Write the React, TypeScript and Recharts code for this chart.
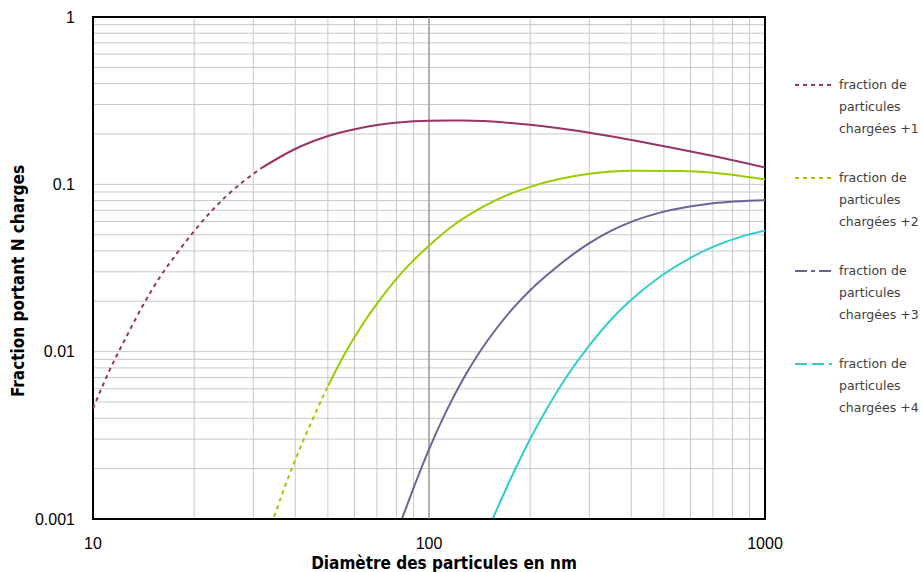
import React from 'react';
import { LineChart, Line, XAxis, YAxis, CartesianGrid, ReferenceLine, ReferenceArea } from 'recharts';

// diametres (nm) et fractions
const d1 = [10, 11.2, 12.6, 14.1, 15.8, 17.8, 20, 22.4, 25.1, 28.2, 31.6, 39.8, 50.1, 63.1, 79.4, 100, 126, 200, 316, 501, 708, 1000];
const f1 = [0.00458, 0.00773, 0.0124, 0.019, 0.0278, 0.0389, 0.0525, 0.0684, 0.0861, 0.105, 0.1245, 0.162, 0.1943, 0.218, 0.233, 0.24, 0.2406, 0.227, 0.2, 0.169, 0.147, 0.126];

const d2 = [34.6, 37, 39.8, 44.7, 50.1, 56.2, 63.1, 70.8, 79.4, 89.1, 100, 120, 145, 174, 200, 300, 400, 560, 700, 1000];
const f2 = [0.00103, 0.00151, 0.0022, 0.00381, 0.00627, 0.00976, 0.01434, 0.02, 0.0268, 0.0345, 0.043, 0.0581, 0.0735, 0.0875, 0.0966, 0.1156, 0.1205, 0.12, 0.1172, 0.107];

const d3 = [83.2, 89.8, 100, 113, 127, 142, 159, 178, 200, 235, 300, 350, 400, 494, 700, 1000];
const f3 = [0.00101, 0.00152, 0.00261, 0.00447, 0.00698, 0.01005, 0.0138, 0.0182, 0.0233, 0.031, 0.0445, 0.0531, 0.0597, 0.0682, 0.0771, 0.0805];

const d4 = [155, 178, 200, 224, 257, 300, 352, 400, 494, 600, 700, 850, 1000];
const f4 = [0.00101, 0.00187, 0.00301, 0.00455, 0.0071, 0.0109, 0.0159, 0.0204, 0.0286, 0.0364, 0.0423, 0.0487, 0.053];

const xTicks = [10, 20, 30, 40, 50, 60, 70, 80, 90, 100, 200, 300, 400, 500, 600, 700, 800, 900, 1000];
const xLabels = [10, 100, 1000];
const yTicks = [
  0.001, 0.002, 0.003, 0.004, 0.005, 0.006, 0.007, 0.008, 0.009,
  0.01, 0.02, 0.03, 0.04, 0.05, 0.06, 0.07, 0.08, 0.09,
  0.1, 0.2, 0.3, 0.4, 0.5, 0.6, 0.7, 0.8, 0.9, 1,
];
const yLabels = [0.001, 0.01, 0.1, 1];

const charges = ['+1', '+2', '+3', '+4'];
const colors = ['#993366', '#99cc00', '#666699', '#33cccc'];
const legendDash = ['4 4', '4 4', '12 4 4 4', '12 5'];

const toRows = (d: number[], f: number[]) => d.map((x, i) => ({ d: x, f: f[i] }));

const s1 = toRows(d1, f1);
const s2 = toRows(d2, f2);
const s3 = toRows(d3, f3);
const s4 = toRows(d4, f4);
// les parties raides apparaissent en pointillés sur l'original
const s1Dash = s1.slice(0, 11);
const s1Solid = s1.slice(10);
const s2Dash = s2.slice(0, 5);
const s2Solid = s2.slice(4);

const tickStyle = { fontFamily: 'Liberation Sans, Arial, sans-serif', fontSize: 16, fill: '#000' };
const titleStyle = { fontFamily: 'DejaVu Sans Condensed, DejaVu Sans, sans-serif', fontWeight: 'bold' as const, fontSize: 17, fill: '#000' };

const App = () => {
  return (
    <div style={{ position: 'absolute', left: 0, top: 0, width: 923, height: 572, background: '#fff' }}>
      <LineChart width={923} height={572} margin={{ top: 17, right: 158, bottom: 0, left: 0 }}>
        <CartesianGrid stroke="#c8c8c8" strokeWidth={1} />
        <XAxis
          type="number"
          dataKey="d"
          scale="log"
          domain={[10, 1000]}
          allowDataOverflow
          ticks={xTicks}
          tickFormatter={(v: number) => (xLabels.includes(v) ? String(v) : '')}
          tick={tickStyle}
          tickLine={false}
          axisLine={false}
          tickSize={0}
          tickMargin={19}
          height={53}
          interval={0}
          label={{
            content: () => (
              <text x={444} y={569} textAnchor="middle" style={titleStyle}>
                Diamètre des particules en nm
              </text>
            ),
          }}
        />
        <YAxis
          type="number"
          dataKey="f"
          scale="log"
          domain={[0.001, 1]}
          allowDataOverflow
          ticks={yTicks}
          tickFormatter={(v: number) => (yLabels.includes(v) ? String(v) : '')}
          tick={tickStyle}
          tickLine={false}
          axisLine={false}
          tickSize={0}
          tickMargin={18}
          width={93}
          interval={0}
          label={{
            content: () => (
              <text x={24} y={281} transform="rotate(-90 24 281)" textAnchor="middle" style={titleStyle}>
                Fraction portant N charges
              </text>
            ),
          }}
        />
        <ReferenceLine x={100} stroke="#808080" strokeWidth={1} />
        <Line data={s1Dash} dataKey="f" type="monotone" stroke={colors[0]} strokeWidth={2} strokeDasharray="4 4" dot={false} isAnimationActive={false} />
        <Line data={s1Solid} dataKey="f" type="monotone" stroke={colors[0]} strokeWidth={2} dot={false} isAnimationActive={false} />
        <Line data={s2Dash} dataKey="f" type="monotone" stroke={colors[1]} strokeWidth={2} strokeDasharray="4 4" dot={false} isAnimationActive={false} />
        <Line data={s2Solid} dataKey="f" type="monotone" stroke={colors[1]} strokeWidth={2} dot={false} isAnimationActive={false} />
        <Line data={s3} dataKey="f" type="monotone" stroke={colors[2]} strokeWidth={2} dot={false} isAnimationActive={false} />
        <Line data={s4} dataKey="f" type="monotone" stroke={colors[3]} strokeWidth={2} dot={false} isAnimationActive={false} />
        <ReferenceArea x1={10} x2={1000} y1={0.001} y2={1} fill="none" fillOpacity={0} stroke="#000" strokeWidth={2} />
      </LineChart>

      <div style={{ position: 'absolute', left: 795, top: 74, width: 128 }}>
        {charges.map((c, i) => (
          <div key={c} style={{ position: 'absolute', left: 0, top: i * 93, width: 128, height: 70 }}>
            <svg width={38} height={22} style={{ position: 'absolute', left: 0, top: 0 }}>
              <line x1={0} y1={11} x2={37} y2={11} stroke={colors[i]} strokeWidth={2} strokeDasharray={legendDash[i]} />
            </svg>
            <div
              style={{
                position: 'absolute',
                left: 44,
                top: 0,
                fontFamily: 'DejaVu Sans, sans-serif',
                fontSize: 12.5,
                lineHeight: '22px',
                color: '#404040',
                whiteSpace: 'nowrap',
              }}
            >
              <div>fraction de</div>
              <div>particules</div>
              <div>chargées {c}</div>
            </div>
          </div>
        ))}
      </div>
    </div>
  );
};

export default App;
